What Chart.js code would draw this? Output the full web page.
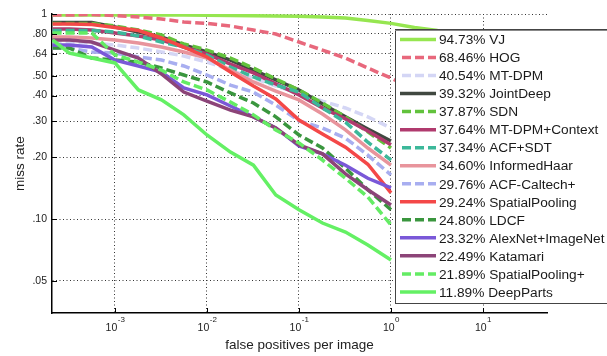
<!DOCTYPE html>
<html>
<head>
<meta charset="utf-8">
<script src="https://cdn.jsdelivr.net/npm/chart.js@4"></script>
<style>
  body { margin: 0; background: #fff; }
  canvas { display: block; }
</style>
</head>
<body>
<canvas id="roc_chart" width="607" height="356"></canvas>
<script>
// false positives per image (shared x samples)
var fppi = [0.00021, 0.00032, 0.00056, 0.001, 0.0018, 0.0032, 0.0056, 0.01, 0.018, 0.032, 0.056, 0.1, 0.18, 0.32, 0.56, 1.0, 1.8, 3.2];

var method_names = ['VJ', 'HOG', 'MT-DPM', 'JointDeep', 'SDN', 'MT-DPM+Context', 'ACF+SDT', 'InformedHaar',
                    'ACF-Caltech+', 'SpatialPooling', 'LDCF', 'AlexNet+ImageNet', 'Katamari', 'SpatialPooling+', 'DeepParts'];
var log_avg_mr = [94.73, 68.46, 40.54, 39.32, 37.87, 37.64, 37.34, 34.60, 29.76, 29.24, 24.80, 23.32, 22.49, 21.89, 11.89];

// miss rate per method, read at the fppi samples
var mr_vj = [0.99, 0.99, 0.99, 0.99, 0.99, 0.99, 0.99, 0.985, 0.983, 0.98, 0.977, 0.975, 0.968, 0.955, 0.93, 0.90, 0.86, 0.83];
var mr_hog = [0.989, 0.989, 0.994, 0.983, 0.967, 0.945, 0.914, 0.899, 0.874, 0.835, 0.799, 0.730, 0.667, 0.610, 0.545, 0.487, 0.426, 0.381];
var mr_mtdpm = [0.730, 0.730, 0.722, 0.706, 0.682, 0.653, 0.624, 0.583, 0.533, 0.487, 0.445, 0.412, 0.376, 0.348, 0.315, 0.278];
var mr_jointdeep = [0.909, 0.909, 0.909, 0.864, 0.817, 0.772, 0.706, 0.653, 0.596, 0.533, 0.477, 0.426, 0.364, 0.315, 0.275, 0.240];
var mr_sdn = [0.899, 0.899, 0.899, 0.874, 0.835, 0.790, 0.714, 0.667, 0.610, 0.545, 0.482, 0.426, 0.368, 0.315, 0.266, 0.222];
var mr_mtdpm_ctx = [0.845, 0.845, 0.835, 0.808, 0.781, 0.747, 0.690, 0.638, 0.570, 0.516, 0.456, 0.403, 0.348, 0.308, 0.269, 0.230];
var mr_acf_sdt = [0.831, 0.831, 0.831, 0.817, 0.781, 0.730, 0.690, 0.631, 0.551, 0.493, 0.450, 0.416, 0.348, 0.297, 0.237, 0.194];
var mr_informedhaar = [0.772, 0.772, 0.764, 0.747, 0.722, 0.690, 0.653, 0.610, 0.533, 0.466, 0.421, 0.381, 0.325, 0.272, 0.222, 0.183];
var mr_acf_caltech = [0.682, 0.682, 0.653, 0.645, 0.617, 0.596, 0.558, 0.504, 0.450, 0.416, 0.360, 0.301, 0.278, 0.248, 0.205, 0.164];
var mr_spatialpooling = [0.894, 0.894, 0.889, 0.859, 0.831, 0.764, 0.690, 0.617, 0.521, 0.445, 0.385, 0.304, 0.260, 0.224, 0.185, 0.134];
var mr_ldcf = [0.682, 0.682, 0.610, 0.596, 0.583, 0.545, 0.504, 0.466, 0.412, 0.368, 0.315, 0.257, 0.222, 0.177, 0.139, 0.111];
var mr_alexnet = [0.706, 0.706, 0.690, 0.596, 0.558, 0.521, 0.436, 0.403, 0.356, 0.315, 0.278, 0.227, 0.208, 0.183, 0.158, 0.142];
var mr_katamari = [0.747, 0.747, 0.730, 0.667, 0.610, 0.510, 0.416, 0.376, 0.340, 0.315, 0.278, 0.230, 0.208, 0.166, 0.139, 0.117];
var mr_spatialpooling_plus = [0.808, 0.808, 0.808, 0.631, 0.583, 0.533, 0.466, 0.426, 0.372, 0.322, 0.272, 0.235, 0.194, 0.158, 0.128, 0.0935];
var mr_deepparts = [0.747, 0.645, 0.610, 0.577, 0.426, 0.381, 0.322, 0.257, 0.212, 0.183, 0.131, 0.111, 0.0956, 0.0864, 0.0747, 0.0631];

var x_ticks = [0.001, 0.01, 0.1, 1, 10];
var y_ticks = [0.05, 0.1, 0.2, 0.3, 0.4, 0.5, 0.64, 0.8, 1];

var miss_rates = [mr_vj, mr_hog, mr_mtdpm, mr_jointdeep, mr_sdn, mr_mtdpm_ctx, mr_acf_sdt, mr_informedhaar,
                  mr_acf_caltech, mr_spatialpooling, mr_ldcf, mr_alexnet, mr_katamari, mr_spatialpooling_plus, mr_deepparts];

var line_colors = ['#96e650', '#e8687c', '#d4d6f5', '#404840', '#62c23c', '#b03a6e', '#3cb89a', '#e8949c',
                   '#a8aef0', '#f44848', '#3a963e', '#7a58d8', '#8c4478', '#64ec64', '#64f064'];
var dashed = [false, true, true, false, true, false, true, false, true, false, true, false, false, true, false];

var FONT = "'Liberation Sans', Arial, sans-serif";

var datasets = [];
for (var i = 0; i < method_names.length; i++) {
    var pts = [];
    for (var j = 0; j < fppi.length; j++) {
        if (miss_rates[i][j] != null) pts.push({x: fppi[j], y: miss_rates[i][j]});
    }
    datasets.push({
        label: log_avg_mr[i].toFixed(2) + '% ' + method_names[i],
        data: pts,
        borderColor: line_colors[i],
        backgroundColor: line_colors[i],
        borderWidth: 3.5,
        borderDash: dashed[i] ? [9, 4] : [],
        pointRadius: 0,
        tension: 0,
        fill: false,
        order: method_names.length - i
    });
}

// inward ticks, superscript x labels and the boxed legend
var matlabBits = {
    id: 'matlabBits',
    afterDraw: function(chart) {
        var ctx = chart.ctx;
        var xs = chart.scales.x, ys = chart.scales.y;
        var area = chart.chartArea;
        ctx.save();
        ctx.strokeStyle = '#000';
        ctx.lineWidth = 1;
        x_ticks.forEach(function(v) {
            var px = Math.round(xs.getPixelForValue(v)) + 0.5;
            ctx.beginPath(); ctx.moveTo(px, area.bottom); ctx.lineTo(px, area.bottom - 5); ctx.stroke();
        });
        y_ticks.forEach(function(v) {
            var py = Math.round(ys.getPixelForValue(v)) + 0.5;
            ctx.beginPath(); ctx.moveTo(area.left, py); ctx.lineTo(area.left + 5, py); ctx.stroke();
        });

        // x tick labels 10^n
        ctx.fillStyle = '#222';
        ctx.textBaseline = 'middle';
        ctx.textAlign = 'left';
        x_ticks.forEach(function(v) {
            var px = xs.getPixelForValue(v);
            var ex = String(Math.round(Math.log10(v)));
            ctx.font = '10.5px ' + FONT;
            var wb = ctx.measureText('10').width;
            ctx.font = '8px ' + FONT;
            var we = ctx.measureText(ex).width;
            var x0 = px - (wb + we) / 2;
            ctx.font = '10.5px ' + FONT;
            ctx.fillText('10', x0, area.bottom + 15);
            ctx.font = '8px ' + FONT;
            ctx.fillText(ex, x0 + wb + 0.5, area.bottom + 7);
        });

        // legend box
        var lx = 395, ly = 29, lw = 230, lh = 274;
        ctx.fillStyle = '#fff';
        ctx.fillRect(lx, ly, lw, lh);
        ctx.strokeStyle = '#444';
        ctx.lineWidth = 1;
        ctx.strokeRect(lx + 0.5, ly + 0.5, lw, lh);
        ctx.strokeStyle = '#888';
        ctx.beginPath(); ctx.moveTo(lx, ly + 1.5); ctx.lineTo(lx + lw, ly + 1.5); ctx.stroke();

        ctx.font = '13.7px ' + FONT;
        ctx.textBaseline = 'middle';
        for (var k = 0; k < method_names.length; k++) {
            var yy = 39.5 + 18.03 * k;
            ctx.strokeStyle = line_colors[k];
            ctx.lineWidth = 3.5;
            ctx.setLineDash(dashed[k] ? [9, 4] : []);
            ctx.beginPath(); ctx.moveTo(dashed[k] ? 402 : 400, yy); ctx.lineTo(436, yy); ctx.stroke();
            ctx.setLineDash([]);
            ctx.fillStyle = '#1a1a1a';
            ctx.fillText(log_avg_mr[k].toFixed(2) + '% ' + method_names[k], 439, yy + 1);
        }
        ctx.restore();
    }
};

var roc_ctx = document.getElementById('roc_chart');
var roc_chart = new Chart(roc_ctx, {
    type: 'line',
    data: { datasets: datasets },
    options: {
        responsive: false,
        animation: false,
        devicePixelRatio: 1,
        layout: { padding: { left: 0, top: 14, right: 60, bottom: 0 } },
        plugins: {
            legend: { display: false },
            tooltip: { enabled: false }
        },
        scales: {
            x: {
                type: 'logarithmic',
                min: 2.07e-4,
                max: 49.6,
                afterBuildTicks: function(scale) { scale.ticks = x_ticks.map(function(v) { return {value: v}; }); },
                afterFit: function(scale) { scale.height = 43; },
                ticks: { display: false },
                grid: { color: '#333', lineWidth: 1, drawTicks: false },
                border: { display: true, color: '#000', width: 1.5, dash: [1, 2.5] },
                title: {
                    display: true,
                    text: 'false positives per image',
                    color: '#222',
                    font: { family: FONT, size: 13.5 },
                    padding: { top: 0, bottom: 3 }
                }
            },
            y: {
                type: 'logarithmic',
                min: 0.0348,
                max: 1,
                afterBuildTicks: function(scale) { scale.ticks = y_ticks.map(function(v) { return {value: v}; }); },
                afterFit: function(scale) { scale.width = 52; },
                ticks: {
                    autoSkip: false,
                    padding: 5,
                    color: '#222',
                    font: { family: FONT, size: 10.5 },
                    callback: function(v) {
                        if (v >= 1) return '1';
                        return '.' + String(Math.round(v * 100)).padStart(2, '0');
                    }
                },
                grid: { color: '#333', lineWidth: 1, drawTicks: false },
                border: { display: true, color: '#000', width: 1.5, dash: [1, 2.5] },
                title: {
                    display: true,
                    text: 'miss rate',
                    color: '#222',
                    font: { family: FONT, size: 13.5 },
                    padding: { top: 12, bottom: 0 }
                }
            }
        }
    },
    plugins: [matlabBits]
});
</script>
</body>
</html>
